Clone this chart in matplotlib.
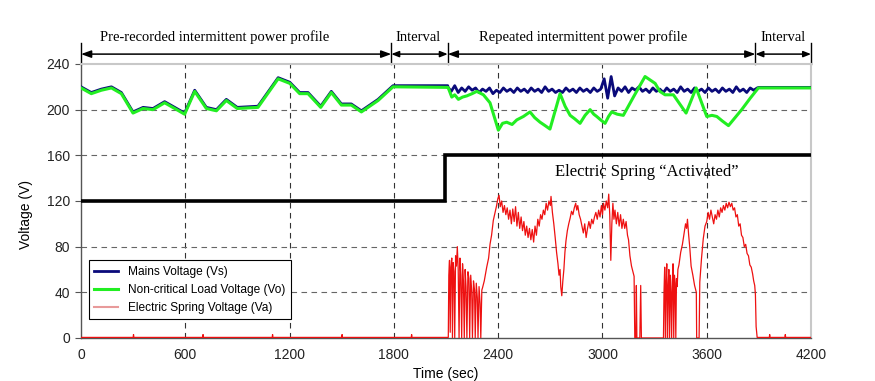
# Electric spring test: mains / non-critical load / ES voltage vs time
import numpy as np
import matplotlib
matplotlib.use("Agg")
import matplotlib.pyplot as plt

plt.rcParams["font.family"] = ["Liberation Sans", "DejaVu Sans"]

# --- data ---
# pre-recorded profile (Vs == Vo, spring off)
t_pre = [0, 59, 117, 175, 232, 299, 357, 414, 481, 539, 596, 654, 721, 779,
         836, 899, 1018, 1134, 1201, 1258, 1306, 1379, 1440, 1498, 1555, 1613,
         1709, 1795, 2110]
v_pre = [219, 214, 217, 219, 214, 197, 201, 200, 206, 201, 196, 216, 201, 199,
         208, 201, 202, 227, 223, 214, 214, 202, 215, 204, 204, 198,
         208, 220, 219.5]

# mains voltage during repeated profile, 20 s samples 2110..3890
vs_rep = [220, 216, 221, 215, 219, 216, 220, 217, 219, 215,
          218, 216, 219, 214, 217, 215, 219, 216, 218, 215,
          219, 216, 218, 215, 219, 216, 218, 215, 220, 216,
          218, 215, 217, 215, 219, 216, 218, 215, 219, 216,
          218, 215, 219, 216, 218, 227, 210, 229, 212, 219,
          216, 220, 215, 219, 217, 220, 216, 218, 215, 219,
          216, 218, 215, 219, 216, 218, 215, 220, 216, 218,
          215, 219, 216, 218, 215, 219, 216, 218, 215, 219,
          216, 218, 215, 220, 216, 218, 215, 219, 217, 219]
t_vs_rep = np.linspace(2110, 3890, len(vs_rep))
t_vs_end = [3900, 4200]
v_vs_end = [219.5, 219.5]

# non-critical load voltage during repeated profile
t_vo_rep = [2113, 2133, 2150, 2171, 2195, 2219, 2250, 2277, 2315, 2353, 2401,
            2425, 2449, 2480, 2507, 2545, 2583, 2610, 2641, 2670, 2698, 2756,
            2785, 2814, 2840, 2871, 2900, 2929, 2950, 2967, 2990, 3015, 3035,
            3053, 3085, 3120, 3178, 3245, 3303, 3330, 3360, 3408, 3481, 3539,
            3600, 3630, 3658, 3690, 3725, 3801, 3850, 3897, 4200]
v_vo_rep = [219, 211, 213, 209, 211, 212, 214, 216, 213, 206, 182,
            188, 189, 187, 191, 194, 198, 193, 189, 186, 183, 214,
            203, 195, 192, 188, 195, 200, 196, 194, 191, 188, 194,
            198, 196, 195, 211, 229, 223, 216, 213, 213, 197, 219,
            194, 195, 194, 190, 186, 200, 210, 219, 219]

# electric spring voltage
t_va = [0, 300, 302, 304, 700, 702, 704, 1100, 1102, 1104, 1500, 1502, 1504,
        1900, 1902, 1904, 2105,
        2113, 2116, 2120, 2124, 2128, 2133, 2137, 2141, 2146, 2150, 2155, 2160,
        2165, 2170, 2175, 2180, 2185, 2190, 2195, 2200, 2205, 2210, 2215, 2220,
        2226, 2232, 2236, 2242, 2248, 2252, 2258, 2264, 2268, 2274, 2280, 2284,
        2290, 2296, 2300, 2306,
        2310, 2320, 2334, 2345, 2353, 2362, 2372, 2382, 2391, 2398, 2405,
        2412, 2420, 2428, 2436, 2444, 2452, 2460, 2468, 2476, 2484, 2492, 2500,
        2508, 2516, 2524, 2532, 2540, 2548, 2556, 2564, 2572, 2580, 2588, 2596,
        2604, 2612, 2620, 2628, 2636, 2644, 2652, 2660, 2668, 2676, 2684, 2692,
        2700, 2704,
        2712, 2720, 2728, 2736, 2744, 2750, 2756, 2760, 2766, 2772, 2778, 2784,
        2790, 2798, 2806, 2814, 2822, 2830, 2838, 2846, 2852, 2858, 2866, 2874,
        2882, 2890, 2898, 2906, 2914, 2922, 2930, 2938, 2946, 2954, 2962, 2970,
        2978, 2986, 2994, 3000, 3006, 3014, 3022, 3030, 3036, 3042, 3048, 3054,
        3060, 3066, 3072, 3080, 3088, 3096, 3104, 3112, 3120, 3128, 3136, 3144,
        3150, 3158, 3167, 3175, 3182, 3186, 3192, 3195, 3198, 3215, 3220, 3224,
        3351, 3354, 3358, 3362, 3366, 3370, 3374, 3378, 3382, 3386, 3390, 3394,
        3398, 3402, 3406, 3410, 3414, 3418, 3422, 3426, 3430, 3434,
        3440, 3450, 3460, 3470, 3478, 3484, 3489, 3496, 3502, 3510, 3520, 3530,
        3540, 3542, 3556, 3560, 3570, 3580, 3590,
        3600, 3608, 3616, 3624, 3632, 3640, 3648, 3656, 3664, 3672, 3680, 3688,
        3696, 3704, 3712, 3720, 3728, 3736, 3744, 3752, 3760, 3768, 3776, 3784,
        3792, 3800, 3808, 3816, 3824, 3832, 3840, 3848, 3856, 3864, 3870, 3876,
        3880, 3884, 3890, 3960, 3962, 3964, 4050, 4052, 4054, 4200]
v_va = [0.5, 0.5, 3, 0.5, 0.5, 3, 0.5, 0.5, 3, 0.5, 0.5, 3, 0.5,
        0.5, 3, 0.5, 0.5,
        0.5, 55, 68, 5, 62, 70, 0, 66, 58, 0, 72, 63,
        80, 60, 0, 70, 55, 0, 65, 50, 0, 60, 45, 0,
        58, 52, 0, 55, 40, 0, 50, 42, 0, 48, 35, 0,
        45, 30, 0, 42,
        44, 50, 62, 70, 82, 90, 103, 110, 116, 122, 125,
        115, 120, 110, 116, 108, 114, 104, 112, 100, 113, 102, 115,
        98, 110, 96, 106, 94, 102, 90, 98, 88, 96, 86, 95,
        84, 98, 90, 104, 98, 108, 104, 112, 108, 118, 112, 120,
        116, 124,
        110, 100, 88, 75, 65, 55, 60, 45, 37, 50, 60, 75,
        85, 94, 100, 105, 111, 108, 114, 118, 112, 116, 108, 104,
        98, 92, 100, 88, 96, 102, 96, 104, 100, 106, 110, 104,
        112, 106, 116, 108, 118, 112, 120, 114, 126, 108, 68, 100,
        118, 104, 112, 100, 110, 98, 108, 96, 104, 96, 102, 90,
        86, 72, 63, 58, 54, 0, 0, 46, 0, 0, 46, 0,
        0, 40, 62, 0, 50, 65, 0, 45, 60, 0, 55, 40,
        0, 50, 65, 0, 55, 48, 0, 52, 45, 60,
        64, 75, 82, 92, 100, 96, 104, 90, 80, 63, 55, 46,
        40, 0, 0, 49, 70, 87, 98,
        102, 110, 104, 112, 106, 100, 108, 104, 112, 106, 114, 110,
        116, 112, 118, 114, 119, 115, 118, 112, 114, 106, 108, 98,
        100, 90, 88, 80, 82, 74, 72, 64, 62, 56, 50, 46,
        38, 10, 0.5, 0.5, 3, 0.5, 0.5, 3, 0.5, 0.5]

# spring state indicator (thick black step)
t_state = [0, 2095, 2095, 4200]
v_state = [120, 120, 160, 160]

# top annotations: segment boundaries and labels
seg_edges = [0, 1785, 2110, 3880, 4200]
seg_labels = ["Pre-recorded intermittent power profile", "Interval",
              "Repeated intermittent power profile", "Interval"]
seg_label_x = [771, 1939, 2888, 4039]

xticks = [0, 600, 1200, 1800, 2400, 3000, 3600, 4200]
yticks = [0, 40, 80, 120, 160, 200, 240]

# --- figure ---
fig = plt.figure(figsize=(8.75, 3.81), dpi=100)
ax = fig.add_axes([0.0926, 0.1129, 0.8343, 0.7192])

navy = "#0a0a7a"
green = "#22ee22"

t_vs = list(t_pre) + list(t_vs_rep) + t_vs_end
v_vs = [v + 1 for v in v_pre[:-1]] + [221] + list(vs_rep) + v_vs_end
t_vo = list(t_pre) + t_vo_rep
v_vo = list(v_pre) + v_vo_rep

ax.plot(t_vs, v_vs, color=navy, lw=2.0, label="Mains Voltage (Vs)", zorder=3)
ax.plot(t_vo, v_vo, color=green, lw=2.2, label="Non-critical Load Voltage (Vo)", zorder=4)
ax.plot(t_va, v_va, color="#ee1111", lw=0.9, label="Electric Spring Voltage (Va)", zorder=3)
ax.plot(t_state, v_state, color="black", lw=2.6, zorder=5, solid_joinstyle="miter")

ax.text(3257, 145, "Electric Spring \u201cActivated\u201d", ha="center", va="center",
        family=["Liberation Serif", "DejaVu Serif"], fontsize=12)

ax.set_xlim(0, 4200)
ax.set_ylim(0, 240)
ax.set_xticks(xticks)
ax.set_yticks(yticks)
ax.tick_params(axis="both", labelsize=10, colors="#222222")
ax.tick_params(axis="x", length=0, pad=7)
ax.tick_params(axis="y", length=4, pad=4, color="#555555")

for x in xticks[1:-1]:
    ax.axvline(x, color="#333333", lw=0.8, ls=(0, (5, 4)), zorder=1)
for y in yticks[1:-1]:
    ax.axhline(y, color="#666666", lw=0.8, ls=(0, (5, 4)), zorder=1)

for s in ["left", "bottom"]:
    ax.spines[s].set_color("#555555")
    ax.spines[s].set_linewidth(1.0)
for s in ["top", "right"]:
    ax.spines[s].set_color("#c8c8c8")
    ax.spines[s].set_linewidth(1.5)

ax.set_xlabel("Time (sec)", fontsize=10, labelpad=4)
ax.set_ylabel("Voltage (V)", fontsize=10)
ax.yaxis.set_label_coords(-0.066, 0.45)

leg = ax.legend(loc="lower left", bbox_to_anchor=(0.011, 0.069), borderaxespad=0,
                fontsize=8.6, fancybox=False, framealpha=1, edgecolor="black",
                handlelength=2.0, labelspacing=0.5, borderpad=0.45)
leg.get_frame().set_linewidth(0.8)
leg.legend_handles[2].set_color("#e89a9a")
leg.legend_handles[2].set_linewidth(1.5)

# top segment arrows
trans = ax.get_xaxis_transform()
y_arr = 1.036
for i in range(len(seg_edges) - 1):
    x0, x1 = seg_edges[i], seg_edges[i + 1]
    small = (x1 - x0) < 600
    hl, hw = (0.45, 0.18) if small else (0.6, 0.22)
    ax.annotate("", xy=(x1, y_arr), xytext=(x0, y_arr), xycoords=trans, textcoords=trans,
                arrowprops=dict(arrowstyle=f"<|-|>,head_length={hl},head_width={hw}",
                                color="black", lw=1.1, shrinkA=0, shrinkB=0),
                annotation_clip=False)
    ax.text(seg_label_x[i], 1.098, seg_labels[i], transform=trans, ha="center", va="center",
            family=["Liberation Serif", "DejaVu Serif"], fontsize=10.5, clip_on=False)
for x in seg_edges:
    ax.plot([x, x], [1.0, 1.075], transform=trans, color="black", lw=1.0, clip_on=False)

fig.savefig("out.png", dpi=100)
